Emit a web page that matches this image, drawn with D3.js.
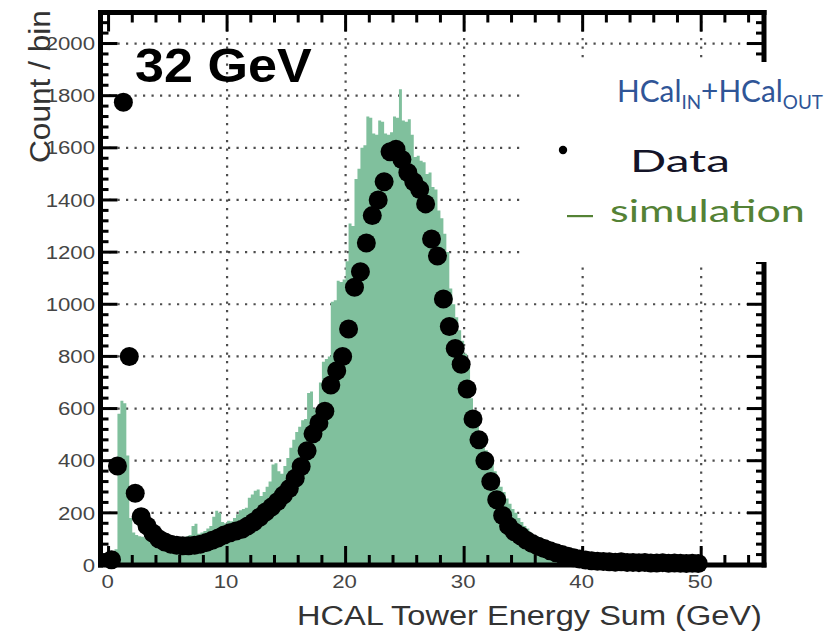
<!DOCTYPE html>
<html lang="en">
<head>
<meta charset="UTF-8">
<title>HCAL Tower Energy Sum, 32 GeV</title>
<script src="https://d3js.org/d3.v7.min.js"></script>
<style>
  body { margin: 0; background: #fff; }
  svg { display: block; }
</style>
</head>
<body>
<div id="chart"></div>
<script>
// measured data, 0.5 GeV bins starting at 0 (black points)
const dataBinWidth = 0.5;
const dataCounts = [
  20, 380, 1775, 800, 275, 185, 150, 122, 100, 88,
  80, 76, 74, 74, 76, 80, 86, 95, 104, 115,
  124, 130, 137, 150, 165, 183, 203, 222, 243, 268,
  293, 333, 378, 438, 503, 545, 590, 690, 745, 800,
  905, 1065, 1125, 1235, 1340, 1400, 1470, 1585, 1595, 1555,
  1505, 1470, 1440, 1385, 1250, 1185, 1020, 915, 830, 770,
  675, 560, 480, 400, 320, 250, 190, 150, 127, 112,
  95, 82, 72, 63, 55, 47, 40, 34, 28, 23,
  19, 16, 14, 13, 12, 11, 12, 10, 10, 9,
  10, 8, 8, 9, 7, 8, 7, 6, 7, 6
];

// simulation, 0.25 GeV bins starting at 0 (green histogram)
const simBinWidth = 0.25;
const simCounts = [
  5, 30, 60, 580,   630, 620, 420, 180,   125, 115, 110, 108,   104, 100, 98, 95,
  92, 96, 90, 88,   92, 86, 90, 95,   92, 100, 110, 115,   150, 158, 120, 125,
  130, 140, 150, 185,   208, 200, 165, 160,   170, 168, 180, 195,   210, 215, 220, 258,
  270, 285, 290, 265,   280, 300, 320, 385,   390, 360, 350, 380,   410, 450, 480, 510,
  530, 555, 560, 660,   665, 600, 580, 700,   780, 790, 800, 1010,   1015, 1090, 1085, 1095,
  1165, 1310, 1300, 1480,   1520, 1600, 1610, 1720,   1715, 1655, 1650, 1705,   1700, 1655, 1650, 1660,
  1720, 1715, 1825, 1705,   1700, 1710, 1650, 1565,   1570, 1550, 1545, 1500,   1505, 1450, 1440, 1360,
  1330, 1270, 1200, 1060,   1000, 950, 900, 860,   810, 760, 640, 590,   540, 500, 470, 440,
  410, 395, 360, 330,   300, 280, 255, 235,   215, 200, 180, 165,   150, 140, 125, 115,
  110, 105, 100, 95,   80, 60, 45, 35,   28, 22, 18, 14,   12, 10, 8, 6
];

const xTicks = [0, 10, 20, 30, 40, 50];
const yTicks = [0, 200, 400, 600, 800, 1000, 1200, 1400, 1600, 1800, 2000];
const xMinorStep = 2;
const yMinorStep = 40;

const beamLabel = "32 GeV";
const xTitle = "HCAL Tower Energy Sum (GeV)";
const yTitle = "Count / bin";

const W = 834, H = 640;
const simColor = "#80c09d";
const frameColor = "#000";

const svg = d3.select("#chart").append("svg")
  .attr("width", W).attr("height", H);

const x = d3.scaleLinear().domain([-0.68, 55.3]).range([100.5, 764]);
const y = d3.scaleLinear().domain([0, 2119]).range([565, 12.5]);
const xL = x.range()[0], xR = x.range()[1];
const yB = y.range()[0], yT = y.range()[1];

// stretch text horizontally to a measured width
function fitText(sel, x0, y0, width, rot) {
  const w = sel.node().getBBox().width;
  const r = rot ? ` rotate(${rot})` : "";
  sel.attr("transform", `translate(${x0},${y0})${r} scale(${width / w},1)`);
}

// dotted grid
svg.append("g").selectAll("line")
  .data(yTicks.filter(d => d > 0))
  .join("line")
  .attr("x1", xL).attr("x2", xR)
  .attr("y1", d => y(d)).attr("y2", d => y(d))
  .attr("stroke", "#4d4d4d")
  .attr("stroke-width", 2.2)
  .attr("stroke-dasharray", "2.2,6.3");

svg.append("g").selectAll("line")
  .data(xTicks.filter(d => d > 0))
  .join("line")
  .attr("x1", d => x(d)).attr("x2", d => x(d))
  .attr("y1", yT).attr("y2", yB)
  .attr("stroke", "#4d4d4d")
  .attr("stroke-width", 2.2)
  .attr("stroke-dasharray", "2.2,6.3");

// simulation histogram
let simPts = simCounts.map((c, i) => ({e: i * simBinWidth, c: c}));
simPts.push({e: simCounts.length * simBinWidth, c: 0});

let simArea = d3.area()
  .x(d => x(d.e))
  .y0(y(0))
  .y1(d => y(d.c))
  .curve(d3.curveStepAfter);

svg.append("path")
  .datum(simPts)
  .attr("fill", simColor)
  .attr("d", simArea);

// data points
svg.append("g")
  .selectAll("circle")
  .data(dataCounts)
  .join("circle")
  .attr("cx", (d, i) => x((i + 0.5) * dataBinWidth))
  .attr("cy", d => y(d))
  .attr("r", 9.5)
  .attr("fill", "#000");

// tick labels
const tickFont = "'Liberation Sans', Arial, sans-serif";

svg.append("g")
  .selectAll("text")
  .data(yTicks)
  .join("text")
  .attr("font-family", tickFont)
  .attr("font-size", 18.5)
  .attr("fill", "#454545")
  .attr("text-anchor", "end")
  .attr("dy", "0.36em")
  .attr("transform", d => `translate(95,${y(d)}) scale(1.2,1)`)
  .text(d => d);

svg.append("g")
  .selectAll("text")
  .data(xTicks)
  .join("text")
  .attr("font-family", tickFont)
  .attr("font-size", 18.5)
  .attr("fill", "#454545")
  .attr("text-anchor", "middle")
  .attr("transform", d => `translate(${x(d) - 1},588) scale(1.2,1)`)
  .text(d => d);

// axis titles
let xt = svg.append("text")
  .attr("font-family", tickFont)
  .attr("font-size", 28)
  .attr("fill", "#333")
  .text(xTitle);
fitText(xt, 297, 625, 465);

let yt = svg.append("text")
  .attr("font-family", tickFont)
  .attr("font-size", 29)
  .attr("fill", "#333")
  .text(yTitle);
fitText(yt, 50, 163, 153, -90);

// frame and inward ticks, as filled bars [x, y, w, h]
const fw = 5;
const tw = 3;
const bars = [
  [xL - fw / 2, yT - fw / 2, xR - xL + fw, fw],
  [xL - fw / 2, yB - fw / 2, xR - xL + fw, fw],
  [xL - fw / 2, yT - fw / 2, fw, yB - yT + fw],
  [xR - fw / 2, yT - fw / 2, fw, yB - yT + fw]
];
d3.range(0, x.domain()[1], xMinorStep).forEach(v => {
  let len = v % 10 === 0 ? 19 : 10;
  bars.push([x(v) - tw / 2, yT, tw, len]);
  bars.push([x(v) - tw / 2, yB - len, tw, len]);
});
d3.range(yMinorStep, y.domain()[1], yMinorStep).forEach(v => {
  let len = v % 200 === 0 ? 17 : 8;
  bars.push([xL, y(v) - tw / 2, len, tw]);
  bars.push([xR - len, y(v) - tw / 2, len, tw]);
});

svg.append("g").selectAll("rect")
  .data(bars)
  .join("rect")
  .attr("x", d => d[0]).attr("y", d => d[1])
  .attr("width", d => d[2]).attr("height", d => d[3])
  .attr("fill", frameColor);

// beam energy label
let bl = svg.append("text")
  .attr("font-family", tickFont)
  .attr("font-size", 49)
  .attr("font-weight", "bold")
  .attr("fill", "#000")
  .text(beamLabel);
fitText(bl, 135, 82, 177);

// legend (pasted on top of the plot, covers part of the right frame)
const legFont = "Lato, 'Open Sans', sans-serif";
svg.append("rect")
  .attr("x", 521).attr("y", 62)
  .attr("width", W - 521).attr("height", 200)
  .attr("fill", "#fff");

let hc = svg.append("text")
  .attr("font-family", legFont)
  .attr("font-size", 30)
  .attr("fill", "#2f5597");
hc.append("tspan").text("HCal");
hc.append("tspan").attr("font-size", 19).attr("dy", 7).text("IN");
hc.append("tspan").attr("dy", -7).text("+HCal");
hc.append("tspan").attr("font-size", 19).attr("dy", 7).text("OUT");
fitText(hc, 617, 102, 206);

svg.append("circle")
  .attr("cx", 563).attr("cy", 150).attr("r", 4.2)
  .attr("fill", "#000");

let dt = svg.append("text")
  .attr("font-family", legFont)
  .attr("font-size", 30)
  .attr("fill", "#141428")
  .text("Data");
fitText(dt, 630, 172, 100);

svg.append("rect")
  .attr("x", 567).attr("y", 215)
  .attr("width", 26).attr("height", 2.2)
  .attr("fill", "#548235");

let sm = svg.append("text")
  .attr("font-family", legFont)
  .attr("font-size", 30)
  .attr("fill", "#548235")
  .text("simulation");
fitText(sm, 610, 222, 195);

// clipped slide text at bottom-left
svg.append("clipPath").attr("id", "clipL")
  .append("rect").attr("x", 19).attr("y", 580).attr("width", 100).attr("height", 60);

let gv = svg.append("text")
  .attr("clip-path", "url(#clipL)")
  .attr("font-family", legFont)
  .attr("font-size", 30)
  .attr("fill", "#2e6fb5")
  .text("gov>");
fitText(gv, 6, 617, 82);
</script>
</body>
</html>
